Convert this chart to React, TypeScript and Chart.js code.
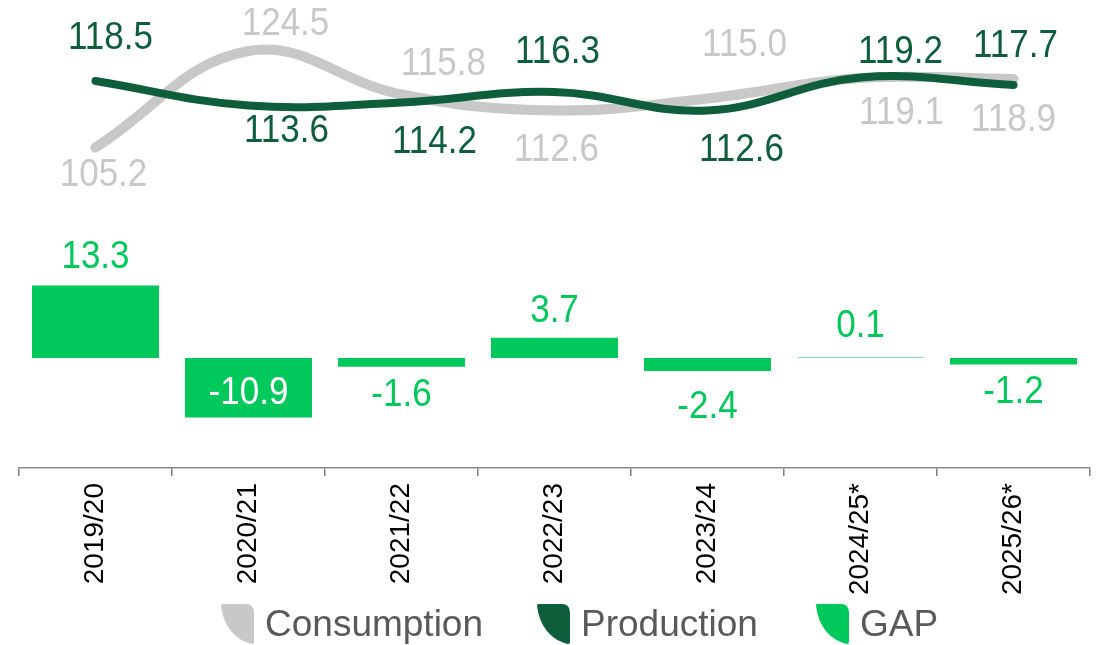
import React, { useEffect, useRef } from "react";
import { Chart, registerables } from "chart.js";

Chart.register(...registerables);

// ---- data ----
const categories = ["2019/20", "2020/21", "2021/22", "2022/23", "2023/24", "2024/25*", "2025/26*"];
const consumption = [105.2, 124.5, 115.8, 112.6, 115.0, 119.1, 118.9];
const production = [118.5, 113.6, 114.2, 116.3, 112.6, 119.2, 117.7];
const gap = [13.3, -10.9, -1.6, 3.7, -2.4, 0.1, -1.2];

// ---- label placement (pixel offsets from each mark's end) ----
const consumptionLabelDx = [8, 37, 42, 2, 37, 41, 0];
const consumptionLabelDy = [28, -27, -30, 40, -53, 35, 41];
const productionLabelDx = [15, 38, 33, 3, 34, 40, 2];
const productionLabelDy = [-43, 26, 40, -40, 40, -25, -39];
const gapLabelDx = [0, 0, 0, 0, 0, 0, 0];
const gapLabelDy = [-28, -24, 28, -27, 36, -31, 28];

// ---- styles ----
const GRAY = "#C8C8C8";
const DARK = "#0E5E3B";
const BRIGHT = "#00C85A";
const FONT = '"Liberation Sans", Arial, sans-serif';

const legendItems = [
  { name: "Consumption", color: GRAY, iconLeft: 221, textLeft: 265 },
  { name: "Production", color: DARK, iconLeft: 537, textLeft: 581 },
  { name: "GAP", color: BRIGHT, iconLeft: 816, textLeft: 860 },
];

const labelPlugin = {
  id: "valueLabels",
  afterDatasetsDraw(chart: any) {
    const ctx = chart.ctx;
    ctx.save();
    ctx.font = `35px ${FONT}`;
    ctx.textAlign = "center";
    ctx.textBaseline = "middle";
    chart.data.datasets.forEach((ds: any, di: number) => {
      const meta = chart.getDatasetMeta(di);
      meta.data.forEach((el: any, i: number) => {
        const v = ds.data[i];
        const x = el.x + ds.labelDx[i];
        const y = el.y + ds.labelDy[i];
        ctx.save();
        ctx.translate(x, y);
        ctx.scale(1, 1.12);
        ctx.fillStyle = ds.labelColors ? ds.labelColors[i] : ds.labelColor;
        ctx.fillText(v.toFixed(1), 0, 0);
        ctx.restore();
      });
    });
    ctx.restore();
  },
};

function Leaf({ color }: { color: string }) {
  return (
    <svg width={34} height={40} viewBox="0 0 34 40" style={{ display: "block" }}>
      <path d="M0,1 Q0,0 2,0 H25 Q33,0 33,9 V38 Q33,40 31,40 C14,36 2,22 0,1 Z" fill={color} />
    </svg>
  );
}

export default function App() {
  const ref = useRef<HTMLCanvasElement | null>(null);

  useEffect(() => {
    if (!ref.current) return;
    const chart = new Chart(ref.current, {
      type: "bar",
      data: {
        labels: categories,
        datasets: [
          {
            type: "line",
            label: "Production",
            data: production,
            yAxisID: "y1",
            borderColor: DARK,
            backgroundColor: DARK,
            borderWidth: 8,
            borderCapStyle: "round",
            tension: 0.4,
            pointRadius: 0,
            fill: false,
            order: 0,
            labelDx: productionLabelDx,
            labelDy: productionLabelDy,
            labelColor: DARK,
          } as any,
          {
            type: "line",
            label: "Consumption",
            data: consumption,
            yAxisID: "y1",
            borderColor: GRAY,
            backgroundColor: GRAY,
            borderWidth: 10,
            borderCapStyle: "round",
            tension: 0.4,
            pointRadius: 0,
            fill: false,
            order: 1,
            labelDx: consumptionLabelDx,
            labelDy: consumptionLabelDy,
            labelColor: GRAY,
          } as any,
          {
            type: "bar",
            label: "GAP",
            data: gap,
            yAxisID: "y",
            backgroundColor: BRIGHT,
            barPercentage: 0.83,
            categoryPercentage: 1,
            order: 2,
            labelDx: gapLabelDx,
            labelDy: gapLabelDy,
            labelColors: gap.map((v) => (v < -5 ? "#FFFFFF" : BRIGHT)),
          } as any,
        ],
      },
      options: {
        animation: false,
        responsive: false,
        layout: { padding: { left: 19, right: 12, top: 0, bottom: 0 } },
        plugins: { legend: { display: false }, tooltip: { enabled: false } },
        scales: {
          x: {
            offset: true,
            grid: {
              display: true,
              offset: true,
              drawOnChartArea: false,
              drawTicks: true,
              tickLength: 8,
              color: "#7F7F7F",
              lineWidth: 1.5,
            },
            border: { display: true, color: "#898989", width: 1.5 },
            ticks: {
              autoSkip: false,
              minRotation: 90,
              maxRotation: 90,
              padding: 7,
              color: "#000000",
              font: { family: FONT, size: 28 },
            },
            afterFit: (s: any) => {
              s.height = 177;
            },
          },
          y: { display: false, min: -20.18, max: 65.69 },
          y1: { display: false, min: 41.1, max: 134.7 },
        },
      },
      plugins: [labelPlugin],
    });
    return () => chart.destroy();
  }, []);

  return (
    <div style={{ position: "fixed", left: 0, top: 0, width: 1102, height: 645, background: "#fff", overflow: "hidden" }}>
      <canvas ref={ref} width={1102} height={645} style={{ position: "absolute", left: 0, top: 0 }} />
      {legendItems.map((it) => (
        <React.Fragment key={it.name}>
          <div style={{ position: "absolute", left: it.iconLeft, top: 604 }}>
            <Leaf color={it.color} />
          </div>
          <div
            style={{
              position: "absolute",
              left: it.textLeft,
              top: 605,
              fontFamily: FONT,
              fontSize: 37,
              lineHeight: 1,
              color: "#595959",
              whiteSpace: "nowrap",
            }}
          >
            {it.name}
          </div>
        </React.Fragment>
      ))}
    </div>
  );
}
